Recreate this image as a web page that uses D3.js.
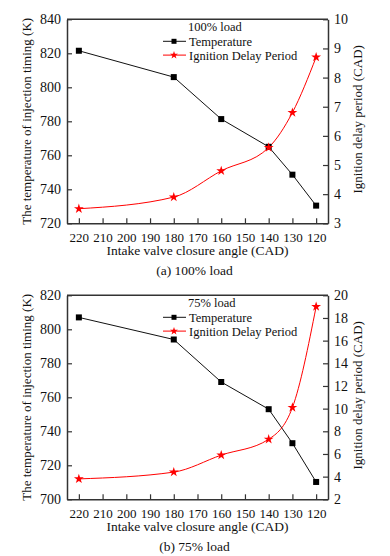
<!DOCTYPE html>
<html lang="en">
<head>
  <meta charset="UTF-8">
  <title>IVC angle vs temperature and ignition delay</title>
  <script src="https://d3js.org/d3.v7.min.js"></script>
  <style>
    body { margin: 0; background: #fff; }
    svg text { font-family: "Liberation Serif", "Times New Roman", serif !important; }
  </style>
</head>
<body>
  <svg id="chart"></svg>
  <script>
    // data
    const angles = [220, 180, 160, 140, 130, 120];
    const xTicks = [220, 210, 200, 190, 180, 170, 160, 150, 140, 130, 120];

    const temp100 = [821.5, 806, 781.3, 765, 748.6, 730.4];
    const delay100 = [3.5, 3.9, 4.8, 5.6, 6.8, 8.7];
    const tempTicks100 = [720, 740, 760, 780, 800, 820, 840];
    const delayTicks100 = [3, 4, 5, 6, 7, 8, 9, 10];

    const temp75 = [807, 794, 769, 753, 733, 710.2];
    const delay75 = [3.8, 4.4, 5.9, 7.3, 10.1, 19.0];
    const tempTicks75 = [700, 720, 740, 760, 780, 800, 820];
    const delayTicks75 = [2, 4, 6, 8, 10, 12, 14, 16, 18, 20];

    const W = 390, H = 556;
    const svg = d3.select('#chart').attr('width', W).attr('height', H);

    const left = 67, right = 328, plotH = 204;

    const x = d3.scaleLinear().domain([225, 115]).range([left, right]);

    function drawPanel(top, load, caption, temp, delay, tTicks, dTicks) {
      const g = svg.append('g');
      const bottom = top + plotH;
      const yL = d3.scaleLinear().domain(d3.extent(tTicks)).range([bottom, top]);
      const yR = d3.scaleLinear().domain(d3.extent(dTicks)).range([bottom, top]);

      // axes with inward ticks
      const ax = g.append('g').attr('transform', `translate(0,${bottom})`)
        .call(d3.axisBottom(x).tickValues(xTicks).tickFormat(d3.format('d'))
          .tickSizeInner(-5).tickSizeOuter(0).tickPadding(9));
      const al = g.append('g').attr('transform', `translate(${left},0)`)
        .call(d3.axisLeft(yL).tickValues(tTicks).tickFormat(d3.format('d'))
          .tickSizeInner(-5).tickSizeOuter(0).tickPadding(6));
      const ar = g.append('g').attr('transform', `translate(${right},0)`)
        .call(d3.axisRight(yR).tickValues(dTicks).tickFormat(d3.format('d'))
          .tickSizeInner(-5).tickSizeOuter(0).tickPadding(6));
      [ax, al, ar].forEach(a => {
        a.attr('font-size', null).attr('font-family', null);
        a.selectAll('text').style('font-size', '14px').attr('fill', '#111');
        a.selectAll('line').attr('stroke', '#333').attr('stroke-width', 1.2);
        a.select('.domain').attr('stroke', '#333').attr('stroke-width', 1.5);
      });
      ax.selectAll('text').style('font-size', '13px');
      // top border
      g.append('line').attr('x1', left).attr('x2', right).attr('y1', top).attr('y2', top)
        .attr('stroke', '#333').attr('stroke-width', 1.5);

      // lines
      const pts = angles.map((a, i) => ({a, t: temp[i], d: delay[i]}));
      g.append('path').datum(pts)
        .attr('fill', 'none').attr('stroke', '#111').attr('stroke-width', 1)
        .attr('d', d3.line().x(d => x(d.a)).y(d => yL(d.t)));
      g.append('path').datum(pts)
        .attr('fill', 'none').attr('stroke', '#ff0000').attr('stroke-width', 1)
        .attr('d', d3.line().curve(d3.curveMonotoneX).x(d => x(d.a)).y(d => yR(d.d)));

      const star = d3.symbol().type(d3.symbolStar).size(30);
      g.selectAll('.sq').data(pts).enter().append('rect')
        .attr('x', d => x(d.a) - 3).attr('y', d => yL(d.t) - 3)
        .attr('width', 6).attr('height', 6).attr('fill', '#000');
      g.selectAll('.st').data(pts).enter().append('path')
        .attr('d', star).attr('fill', '#ff0000')
        .attr('transform', d => `translate(${x(d.a)},${yR(d.d)})`);

      // legend
      const lg = g.append('g').style('font-size', '12.5px').attr('fill', '#111');
      lg.append('text').attr('x', 188).attr('y', top + 12).text(load);
      const items = [
        {label: 'Temperature', color: '#111', mark: 'sq'},
        {label: 'Ignition Delay Period', color: '#ff0000', mark: 'st'}
      ];
      items.forEach((it, i) => {
        const cy = top + 22 + i * 13.8;
        lg.append('line').attr('x1', 163).attr('x2', 186).attr('y1', cy).attr('y2', cy)
          .attr('stroke', it.color).attr('stroke-width', 1);
        if (it.mark === 'sq') {
          lg.append('rect').attr('x', 171.5).attr('y', cy - 2.5).attr('width', 5).attr('height', 5).attr('fill', '#000');
        } else {
          lg.append('path').attr('d', d3.symbol().type(d3.symbolStar).size(20))
            .attr('fill', '#ff0000').attr('transform', `translate(174,${cy})`);
        }
        lg.append('text').attr('x', 189).attr('y', cy + 4.5).text(it.label);
      });

      // axis titles
      const title = (t) => g.append('text').attr('text-anchor', 'middle').attr('fill', '#111').text(t);
      title('Intake valve closure angle (CAD)').style('font-size', '13.5px')
        .attr('x', (left + right) / 2).attr('y', bottom + 32);
      title(caption).style('font-size', '13.5px')
        .attr('x', (left + right) / 2 - 3).attr('y', bottom + 52);
      title('The temperature of injection timing (K)').style('font-size', '13px')
        .attr('transform', `translate(31,${top + plotH / 2}) rotate(-90)`);
      title('Ignition delay period (CAD)').style('font-size', '13px')
        .attr('transform', `translate(362,${top + 100}) rotate(-90)`);
    }

    drawPanel(19.3, '100% load', '(a) 100% load', temp100, delay100, tempTicks100, delayTicks100);
    drawPanel(295.3, '75% load', '(b) 75% load', temp75, delay75, tempTicks75, delayTicks75);
  </script>
</body>
</html>
